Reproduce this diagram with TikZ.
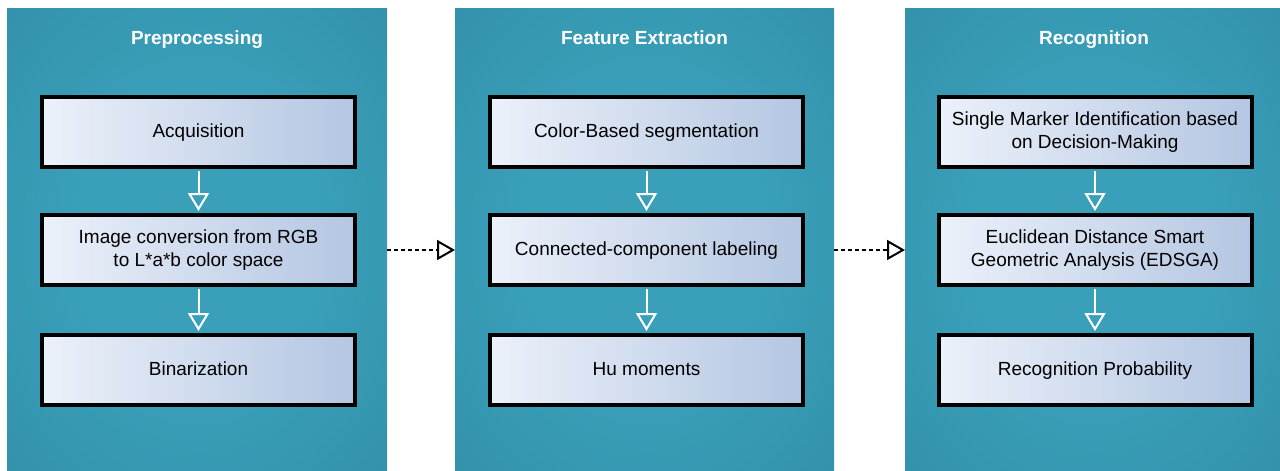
\documentclass[tikz,border=0pt]{standalone}
\usepackage{fontspec}
\setmainfont{Liberation Sans}
\usetikzlibrary{arrows.meta,calc}
\definecolor{boxL}{RGB}{236,241,250}
\definecolor{boxR}{RGB}{180,198,226}
\definecolor{pin}{RGB}{58,160,186}
\definecolor{pmid}{RGB}{50,143,168}
\definecolor{pout}{RGB}{38,115,137}
\pgfdeclareradialshading{panelshade}{\pgfpoint{0bp}{0bp}}{color(0bp)=(pin); color(15bp)=(pin); color(40bp)=(pmid); color(72bp)=(pout)}
\tikzset{
  panel/.style={shading=panelshade, inner sep=0pt, outer sep=0pt, minimum height=463pt},
  paneltitle/.style={text=white, font=\fontsize{19}{23}\selectfont\bfseries, inner sep=0pt, anchor=base},
  stepbox/.style={draw=black, line width=4pt, left color=boxL, right color=boxR,
    minimum width=313pt, minimum height=70pt, inner sep=0pt, align=center,
    font=\fontsize{19}{23.5}\selectfont, text=black},
  onerow/.style={text height=14pt, text depth=4pt},
  varrow/.style={draw=white, line width=2pt, -{Triangle[open, length=18pt, width=21pt]}, shorten >=2pt, shorten <=2pt},
  darrow/.style={draw=black, line width=2pt, dash pattern=on 4pt off 3pt, -{Triangle[open, length=18pt, width=20pt]}}
}
\begin{document}
\begin{tikzpicture}[x=1pt,y=-1pt]
\useasboundingbox[fill=white] (0,0) rectangle (1280,471);
% panels
\node[panel, minimum width=380pt] (p1) at (197,239.5) {};
\node[panel, minimum width=379pt] (p2) at (644.5,239.5) {};
\node[panel, minimum width=375pt] (p3) at (1092.5,239.5) {};
% titles
\node[paneltitle] (t1) at (197,44) {Preprocessing};
\node[paneltitle] (t2) at (644.5,44) {Feature Extraction};
\node[paneltitle] (t3) at (1094,44) {Recognition};
% boxes
\node[stepbox, onerow] (a1) at (198.5,132) {Acquisition};
\node[stepbox] (a2) at (198.5,250) {Image conversion from RGB\\to L*a*b color space};
\node[stepbox, onerow] (a3) at (198.5,370) {Binarization};
\node[stepbox, onerow] (b1) at (646.5,132) {Color-Based segmentation};
\node[stepbox, onerow] (b2) at (646.5,250) {Connected-component labeling};
\node[stepbox, onerow] (b3) at (646.5,370) {Hu moments};
\node[stepbox] (c1) at (1095,132) {Single Marker Identification based\\on Decision-Making};
\node[stepbox] (c2) at (1095,250) {Euclidean Distance Smart\\Geometric Analysis (EDSGA)};
\node[stepbox, onerow] (c3) at (1095,370) {Recognition Probability};
% arrows
\draw[varrow] (a1.south) -- (a2.north);
\draw[varrow] (a2.south) -- (a3.north);
\draw[varrow] (b1.south) -- (b2.north);
\draw[varrow] (b2.south) -- (b3.north);
\draw[varrow] (c1.south) -- (c2.north);
\draw[varrow] (c2.south) -- (c3.north);
\draw[darrow] (p1.east |- a2) -- (p2.west |- a2);
\draw[darrow] (p2.east |- b2) -- (p3.west |- b2);
\end{tikzpicture}
\end{document}
